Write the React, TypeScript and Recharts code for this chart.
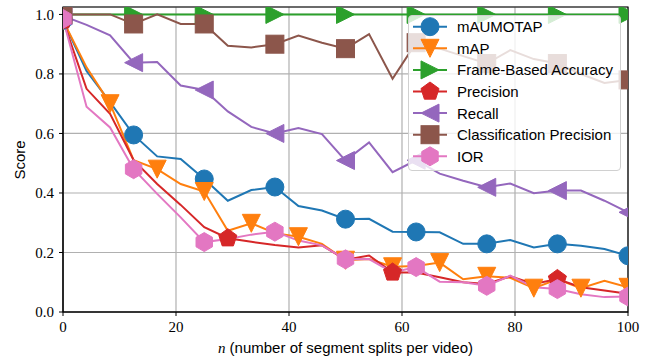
import React from "react";
import {
  LineChart,
  Line,
  XAxis,
  YAxis,
  CartesianGrid,
  ReferenceArea,
} from "recharts";

// n values (25 evenly spaced splits)
const splits = [
  0, 4.17, 8.33, 12.5, 16.67, 20.83, 25, 29.17, 33.33, 37.5, 41.67, 45.83, 50,
  54.17, 58.33, 62.5, 66.67, 70.83, 75, 79.17, 83.33, 87.5, 91.67, 95.83, 100,
];

const mAUMOTAP = [
  0.98, 0.81, 0.705, 0.595, 0.523, 0.514, 0.447, 0.374, 0.41, 0.42, 0.356,
  0.341, 0.312, 0.313, 0.27, 0.269, 0.268, 0.229, 0.229, 0.242, 0.217, 0.229,
  0.223, 0.212, 0.189,
];
const mAP = [
  0.98, 0.822, 0.7, 0.51, 0.48, 0.43, 0.405, 0.273, 0.298, 0.265, 0.253, 0.229,
  0.174, 0.178, 0.152, 0.155, 0.166, 0.11, 0.12, 0.115, 0.08, 0.11, 0.08,
  0.105, 0.083,
];
const frameAccuracy = [
  1.0, 1.0, 1.0, 1.0, 1.0, 1.0, 1.0, 1.0, 1.0, 1.0, 1.0, 1.0, 1.0, 1.0, 1.0,
  1.0, 1.0, 1.0, 1.0, 1.0, 1.0, 1.0, 1.0, 1.0, 1.0,
];
const precision = [
  0.98, 0.75, 0.666, 0.51, 0.43, 0.36, 0.285, 0.248, 0.236, 0.225, 0.217,
  0.224, 0.176, 0.19, 0.133, 0.133, 0.117, 0.1, 0.094, 0.12, 0.094, 0.111,
  0.083, 0.072, 0.061,
];
const recall = [
  0.995, 0.965, 0.93, 0.838, 0.84, 0.761, 0.746, 0.674, 0.622, 0.6, 0.618,
  0.598, 0.509, 0.57, 0.47, 0.51, 0.465, 0.441, 0.419, 0.432, 0.399, 0.408,
  0.408, 0.374, 0.335,
];
const classPrecision = [
  1.0, 1.0, 1.0, 0.968, 1.0, 0.968, 0.968, 0.895, 0.889, 0.9, 0.929, 0.905,
  0.885, 0.934, 0.784, 0.905, 0.885, 0.86, 0.835, 0.88, 0.85, 0.835, 0.8,
  0.77, 0.78,
];
const ior = [
  0.985, 0.69, 0.62, 0.48, 0.397, 0.318, 0.235, 0.245, 0.26, 0.27, 0.24, 0.224,
  0.177, 0.178, 0.133, 0.151, 0.102, 0.1, 0.088, 0.122, 0.083, 0.077, 0.06,
  0.05, 0.052,
];

const xTicks = [0, 20, 40, 60, 80, 100];
const yTicks = [0, 0.2, 0.4, 0.6, 0.8, 1.0];

const data = splits.map((x, i) => ({
  x,
  mAUMOTAP: mAUMOTAP[i],
  mAP: mAP[i],
  frame: frameAccuracy[i],
  precision: precision[i],
  recall: recall[i],
  classPrec: classPrecision[i],
  ior: ior[i],
}));

type Shape = "circle" | "down" | "right" | "left" | "pentagon" | "square" | "hexagon";

const W = 649;
const H = 360;
const margin = { top: 7, right: 21, bottom: 18, left: 0 };
const Y_AXIS_W = 63;
const X_AXIS_H = 30;
// plot box, used to clip the markers at the frame like the lines
const plot = {
  x: margin.left + Y_AXIS_W,
  y: margin.top,
  w: W - margin.left - margin.right - Y_AXIS_W,
  h: H - margin.top - margin.bottom - X_AXIS_H,
};

const R = 9;

function polygon(cx: number, cy: number, n: number, r: number, start: number) {
  const pts: string[] = [];
  for (let k = 0; k < n; k++) {
    const a = start + (k * 2 * Math.PI) / n;
    pts.push(`${cx + r * Math.cos(a)},${cy + r * Math.sin(a)}`);
  }
  return pts.join(" ");
}

function Marker({ shape, cx, cy, color }: { shape: Shape; cx: number; cy: number; color: string }) {
  const common = { fill: color, stroke: color, strokeWidth: 1 };
  switch (shape) {
    case "circle":
      return <circle cx={cx} cy={cy} r={R} {...common} />;
    case "down":
      return <polygon points={`${cx},${cy + R} ${cx - R},${cy - R} ${cx + R},${cy - R}`} {...common} />;
    case "right":
      return <polygon points={`${cx + R},${cy} ${cx - R},${cy - R} ${cx - R},${cy + R}`} {...common} />;
    case "left":
      return <polygon points={`${cx - R},${cy} ${cx + R},${cy - R} ${cx + R},${cy + R}`} {...common} />;
    case "square":
      return <rect x={cx - R} y={cy - R} width={2 * R} height={2 * R} {...common} />;
    case "pentagon":
      return <polygon points={polygon(cx, cy, 5, R + 0.5, -Math.PI / 2)} {...common} />;
    case "hexagon":
      return <polygon points={polygon(cx, cy, 6, R + 0.5, -Math.PI / 2)} {...common} />;
  }
  return null;
}

// only every n-th point carries a marker
const markEvery = (shape: Shape, color: string, every: number) => (props: any) => {
  const { cx, cy, index } = props;
  if (index % every !== 0 || cx == null || cy == null) return <g key={`d-${index}`} />;
  return (
    <g key={`d-${index}`} clipPath="url(#plot-clip)">
      <Marker shape={shape} cx={cx} cy={cy} color={color} />
    </g>
  );
};

const series = [
  { key: "mAUMOTAP", name: "mAUMOTAP", color: "#1f77b4", shape: "circle" as Shape, every: 3 },
  { key: "mAP", name: "mAP", color: "#ff7f0e", shape: "down" as Shape, every: 2 },
  { key: "frame", name: "Frame-Based Accuracy", color: "#2ca02c", shape: "right" as Shape, every: 3 },
  { key: "precision", name: "Precision", color: "#d62728", shape: "pentagon" as Shape, every: 7 },
  { key: "recall", name: "Recall", color: "#9467bd", shape: "left" as Shape, every: 3 },
  { key: "classPrec", name: "Classification Precision", color: "#8c564b", shape: "square" as Shape, every: 3 },
  { key: "ior", name: "IOR", color: "#e377c2", shape: "hexagon" as Shape, every: 3 },
];

const serif = "'Liberation Serif', 'DejaVu Serif', serif";
const sans = "'Liberation Sans', Arial, sans-serif";

const XLabel = (props: any) => {
  const vb = props.viewBox ?? { x: plot.x, y: plot.y + plot.h, width: plot.w, height: X_AXIS_H };
  return (
    <text x={vb.x + vb.width / 2} y={vb.y + 41} textAnchor="middle" fontSize={15} fill="#000">
      <tspan fontFamily={serif} fontStyle="italic">n</tspan>
      <tspan fontFamily={sans}> (number of segment splits per video)</tspan>
    </text>
  );
};

const YLabel = () => (
  <text transform="translate(25,160) rotate(-90)" textAnchor="middle" fontSize={15} fontFamily={sans} fill="#000">
    Score
  </text>
);

function LegendBox() {
  const rowH = 21.6;
  return (
    <div
      style={{
        position: "absolute",
        left: 408,
        top: 15,
        width: 213,
        height: 156,
        boxSizing: "border-box",
        background: "rgba(255,255,255,0.8)",
        border: "1px solid #d0d0d0",
        borderRadius: 4,
      }}
    >
      <svg width={213} height={156} style={{ position: "absolute", left: -1, top: -1 }}>
        {series.map((s, i) => {
          const y = 11.7 + i * rowH;
          return (
            <g key={s.key}>
              <line x1={5} x2={39} y1={y} y2={y} stroke={s.color} strokeWidth={2} />
              <Marker shape={s.shape} cx={22} cy={y} color={s.color} />
              <text x={49} y={y} dy="0.36em" fontSize={15} fontFamily={sans} fill="#000">
                {s.name}
              </text>
            </g>
          );
        })}
      </svg>
    </div>
  );
}

export default function App() {
  return (
    <div style={{ position: "absolute", left: 0, top: 0, width: W, height: H, background: "#fff" }}>
      <svg width={0} height={0} style={{ position: "absolute" }}>
        <defs>
          <clipPath id="plot-clip">
            <rect x={plot.x} y={plot.y} width={plot.w} height={plot.h} />
          </clipPath>
        </defs>
      </svg>
      <LineChart width={W} height={H} data={data} margin={margin}>
        <CartesianGrid stroke="#b0b0b0" strokeWidth={1.2} />
        <XAxis
          dataKey="x"
          type="number"
          domain={[0, 100]}
          ticks={xTicks}
          allowDataOverflow
          height={X_AXIS_H}
          stroke="#000"
          tickSize={4}
          tickMargin={5}
          tick={{ fontFamily: serif, fontSize: 15, fill: "#000" }}
          label={<XLabel />}
        />
        <YAxis
          type="number"
          domain={[0, 1.025]}
          ticks={yTicks}
          allowDataOverflow
          width={Y_AXIS_W}
          stroke="#000"
          tickSize={4}
          tickMargin={5}
          tickFormatter={(v: number) => v.toFixed(1)}
          tick={{ fontFamily: serif, fontSize: 15, fill: "#000" }}
          label={<YLabel />}
        />
        {series.map((s) => (
          <Line
            key={s.key}
            dataKey={s.key}
            name={s.name}
            stroke={s.color}
            strokeWidth={2}
            type="linear"
            dot={markEvery(s.shape, s.color, s.every)}
            activeDot={false}
            isAnimationActive={false}
          />
        ))}
        <ReferenceArea x1={0} x2={100} y1={0} y2={1.025} fill="none" stroke="#000" strokeWidth={1.2} ifOverflow="visible" />
      </LineChart>
      <LegendBox />
    </div>
  );
}
